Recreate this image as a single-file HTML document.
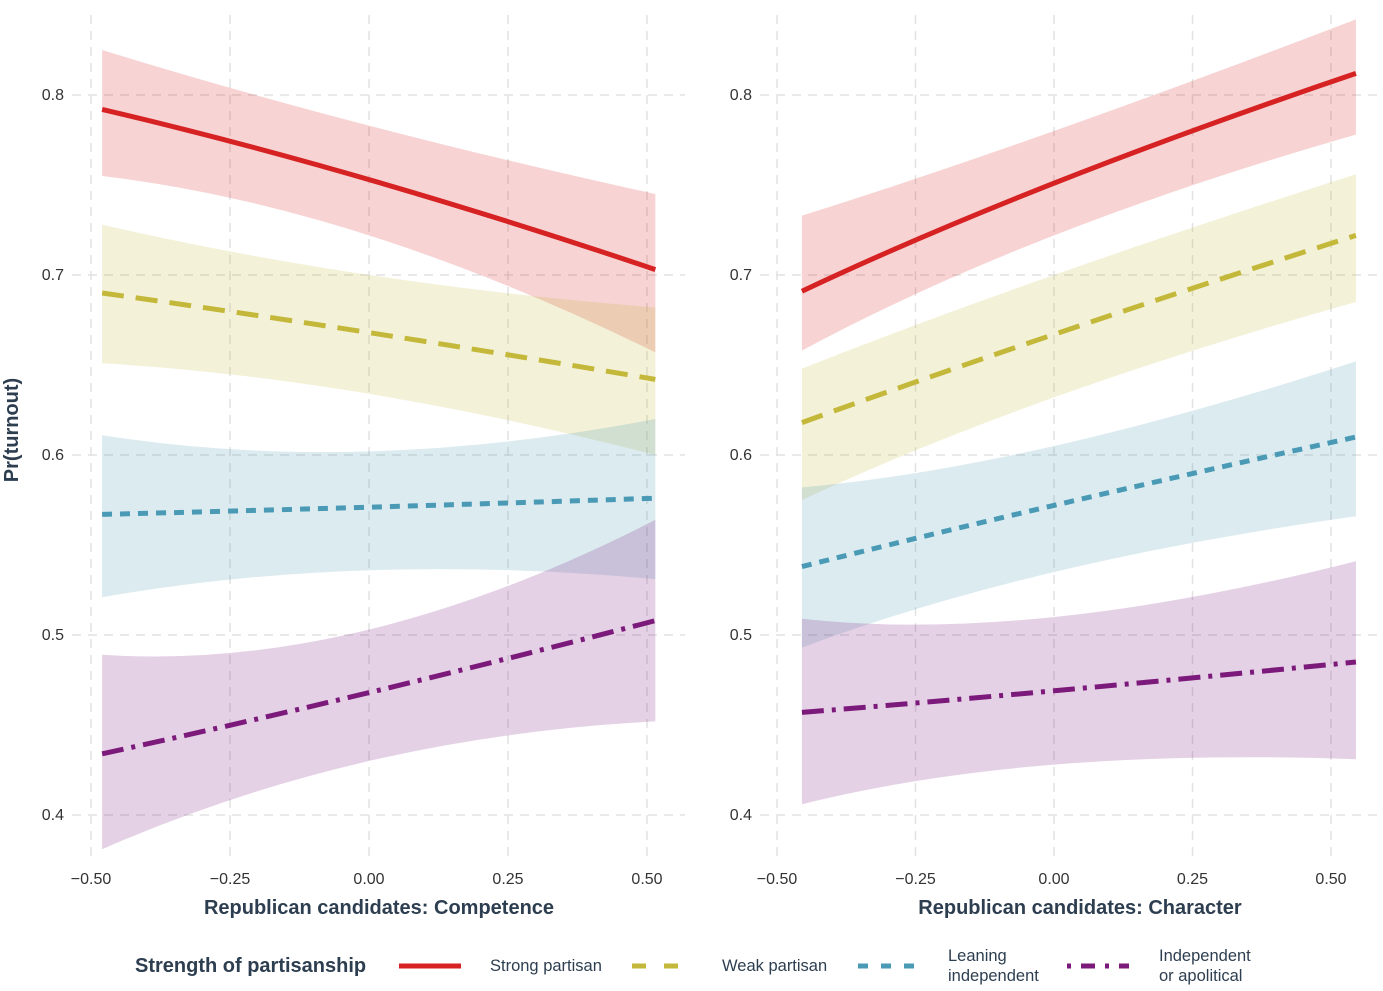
<!DOCTYPE html>
<html><head><meta charset="utf-8"><style>
body{margin:0;background:#fff;font-family:"Liberation Sans",sans-serif}
text{font-family:"Liberation Sans",sans-serif}
</style></head><body>
<svg id="chart" width="1383" height="986" xmlns="http://www.w3.org/2000/svg"></svg>
<script>
const xPos=[-0.48,0,0.515];
const xPosR=[-0.455,0,0.545];
const groups=['Strong partisan','Weak partisan','Leaning independent','Independent or apolitical'];
const colors=['#d62222','#c4b83a','#4a9ab5','#7b1a7b'];
const dashes=['none','22,12','10,8','22,8,4,8'];
// Left panel: Competence
const compFit=[[0.792,0.753,0.703],[0.690,0.668,0.642],[0.567,0.571,0.576],[0.434,0.468,0.508]];
const compHi=[[0.825,0.783,0.745],[0.728,0.700,0.682],[0.611,0.602,0.620],[0.489,0.503,0.564]];
const compLo=[[0.755,0.722,0.657],[0.651,0.634,0.600],[0.521,0.536,0.531],[0.381,0.430,0.452]];
// Right panel: Character
const charFit=[[0.691,0.751,0.812],[0.618,0.667,0.722],[0.538,0.572,0.610],[0.457,0.469,0.485]];
const charHi=[[0.733,0.780,0.842],[0.648,0.700,0.756],[0.582,0.605,0.652],[0.509,0.510,0.541]];
const charLo=[[0.658,0.722,0.778],[0.575,0.632,0.685],[0.493,0.535,0.566],[0.406,0.428,0.431]];
const xTicks=['\u22120.50','\u22120.25','0.00','0.25','0.50'];
const xTickVals=[-0.5,-0.25,0,0.25,0.5];
const yTickVals=[0.4,0.5,0.6,0.7,0.8];

const svg=document.getElementById('chart');
const NS='http://www.w3.org/2000/svg';
function mk(t,a,p){const e=document.createElementNS(NS,t);for(const k in a)e.setAttribute(k,a[k]);(p||svg).appendChild(e);return e;}
const y=v=>95+(0.8-v)*1800;
function curve(sx,pts){
  const p0=[sx(pts[0][0]),y(pts[0][1])],p1=[sx(pts[1][0]),y(pts[1][1])],p2=[sx(pts[2][0]),y(pts[2][1])];
  const c=[2*p1[0]-(p0[0]+p2[0])/2,2*p1[1]-(p0[1]+p2[1])/2];
  return {p0,c,p2};
}
function panel(name,x0,x1,sx,xs,fit,hi,lo,title,tx){
  const g=mk('g',{});
  
  
  xTickVals.forEach((v,i)=>{
    const l=mk('line',{x1:sx(v),x2:sx(v),y1:15,y2:860,stroke:'#e2e2e2','stroke-width':1.5,'stroke-dasharray':'9,7'},g);
    
    const t=mk('text',{x:sx(v),y:884,'text-anchor':'middle','font-size':16,fill:'#333'},g);
    t.textContent=xTicks[i];
  });
  yTickVals.forEach(v=>{
    const l=mk('line',{x1:x0,x2:x1,y1:y(v),y2:y(v),stroke:'#e2e2e2','stroke-width':1.5,'stroke-dasharray':'9,7'},g);
    
    const t=mk('text',{x:x0-8,y:y(v)+5,'text-anchor':'end','font-size':16,fill:'#333'},g);
    t.textContent=v.toFixed(1);
  });
  for(let i=0;i<4;i++){
    const h=curve(sx,xs.map((xv,j)=>[xv,hi[i][j]])),l=curve(sx,xs.map((xv,j)=>[xv,lo[i][j]]));
    const b=mk('path',{d:`M${h.p0}Q${h.c} ${h.p2}L${l.p2}Q${l.c} ${l.p0}Z`,fill:colors[i],'fill-opacity':0.2},g);
    
  }
  for(let i=0;i<4;i++){
    const f=curve(sx,xs.map((xv,j)=>[xv,fit[i][j]]));
    const p=mk('path',{d:`M${f.p0}Q${f.c} ${f.p2}`,fill:'none',stroke:colors[i],'stroke-width':5,'stroke-dasharray':dashes[i]},g);
    
  }
  const t=mk('text',{x:tx,y:914,'text-anchor':'middle','font-size':20,'font-weight':'bold',fill:'#2d3e50'},g);
  t.textContent=title;
}
panel('competence-panel',72,685,v=>369+v*556,xPos,compFit,compHi,compLo,'Republican candidates: Competence',379);
panel('character-panel',760,1383,v=>1054+v*554,xPosR,charFit,charHi,charLo,'Republican candidates: Character',1080);
const yt=mk('text',{x:18,y:430,'text-anchor':'middle','font-size':20,'font-weight':'bold',fill:'#2d3e50',transform:'rotate(-90 18 430)'});
yt.textContent='Pr(turnout)';


const lt=mk('text',{x:135,y:972,'font-size':20,'font-weight':'bold',fill:'#2d3e50'});
lt.textContent='Strength of partisanship';


const keyX=[399,632,858,1067];
const labX=[490,722,948,1159];
const labs=[['Strong partisan'],['Weak partisan'],['Leaning','independent'],['Independent','or apolitical']];
const legDash=['none','14,18','10,13','4,10,14,10'];
for(let i=0;i<4;i++){
  const g=mk('g',{});
  
  
  mk('line',{x1:keyX[i],x2:keyX[i]+62,y1:966,y2:966,stroke:colors[i],'stroke-width':5,'stroke-dasharray':legDash[i]},g);
  labs[i].forEach((s,j)=>{
    const t=mk('text',{x:labX[i],y:labs[i].length==1?971:961+j*20,'font-size':16.5,fill:'#2d3e50'},g);
    t.textContent=s;
  });
}
</script>
</body></html>
